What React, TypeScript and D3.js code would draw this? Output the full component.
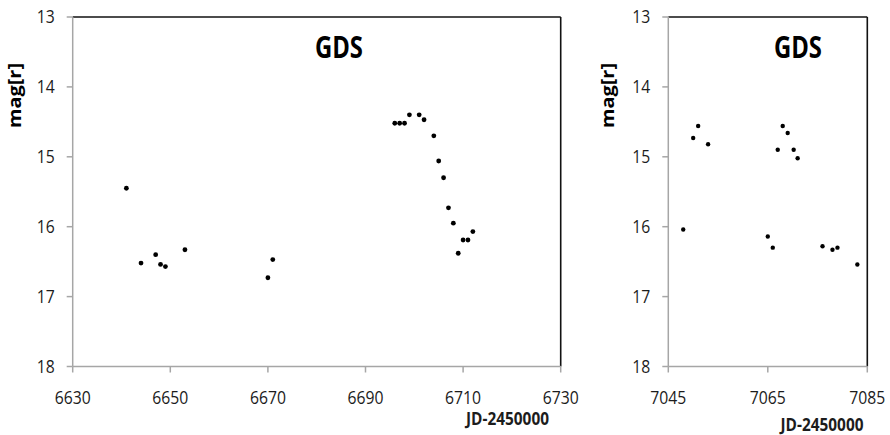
import React from "react";
import * as d3 from "d3";

// GDS r-band light curve, two observing seasons
const seasonAJd = [6641, 6644, 6647, 6648, 6649, 6653, 6670, 6671, 6696, 6697, 6698, 6699, 6701, 6702, 6704, 6705, 6706, 6707, 6708, 6709, 6710, 6711, 6712];
const seasonAMag = [15.45, 16.52, 16.4, 16.54, 16.57, 16.33, 16.73, 16.47, 14.52, 14.52, 14.52, 14.4, 14.4, 14.47, 14.7, 15.06, 15.3, 15.73, 15.95, 16.38, 16.19, 16.19, 16.07];

const seasonBJd = [7048, 7050, 7051, 7053, 7065, 7066, 7067, 7068, 7069, 7070.2, 7071, 7076, 7078, 7079, 7083];
const seasonBMag = [16.04, 14.73, 14.56, 14.82, 16.14, 16.3, 14.9, 14.56, 14.66, 14.9, 15.02, 16.28, 16.33, 16.3, 16.54];

const seasonATicks = [6630, 6650, 6670, 6690, 6710, 6730];
const seasonBTicks = [7045, 7065, 7085];
const magTicks = [13, 14, 15, 16, 17, 18];

const FONT = "'Open Sans', 'DejaVu Sans Condensed', sans-serif";
const AXIS_GREY = "#a6a6a6";
const INK = "#1c1c1c";

type PanelProps = {
  jd: number[];
  mag: number[];
  xDomain: [number, number];
  xTicks: number[];
  left: number;
  right: number;
  titleX: number;
  yLabelX: number;
  xLabelX: number;
  xLabelY: number;
  dotR: number;
};

const TOP = 17;
const BOTTOM = 366.5;

// condensed look: squeeze each label to a fixed advance per character
const squeeze = (s: string, per: number) => ({ textLength: s.length * per, lengthAdjust: "spacingAndGlyphs" as const });

function Panel(p: PanelProps) {
  const x = d3.scaleLinear().domain(p.xDomain).range([p.left, p.right]);
  const y = d3.scaleLinear().domain([13, 18]).range([TOP, BOTTOM]);
  const pts = p.jd.map((j, i) => ({ j, m: p.mag[i] }));
  return (
    <g>
      {/* frame: black top/right, grey axes left/bottom */}
      <line x1={p.left} x2={p.right} y1={TOP} y2={TOP} stroke="#111" strokeWidth={1.6} />
      <line x1={p.right} x2={p.right} y1={TOP} y2={BOTTOM} stroke="#111" strokeWidth={1.6} />
      <line x1={p.left} x2={p.left} y1={TOP} y2={BOTTOM} stroke={AXIS_GREY} strokeWidth={1.5} />
      <line x1={p.left} x2={p.right} y1={BOTTOM} y2={BOTTOM} stroke={AXIS_GREY} strokeWidth={1.5} />
      {magTicks.map((t) => (
        <g key={"y" + t}>
          <line x1={p.left - 6} x2={p.left} y1={y(t)} y2={y(t)} stroke={AXIS_GREY} strokeWidth={1.5} />
          <text x={p.left - 18} y={y(t)} dy="0.36em" textAnchor="end" fontFamily={FONT} fontSize={18} fill={INK} {...squeeze(String(t), 9)}>
            {t}
          </text>
        </g>
      ))}
      {p.xTicks.map((t) => (
        <g key={"x" + t}>
          <line x1={x(t)} x2={x(t)} y1={BOTTOM} y2={BOTTOM + 6} stroke={AXIS_GREY} strokeWidth={1.5} />
          <text x={x(t)} y={397.5} dy="0.36em" textAnchor="middle" fontFamily={FONT} fontSize={17.5} fill={INK} {...squeeze(String(t), 9)}>
            {t}
          </text>
        </g>
      ))}
      {pts.map((d, i) => (
        <circle key={i} cx={x(d.j)} cy={y(d.m)} r={p.dotR} fill="#000" />
      ))}
      <text x={p.titleX} y={46.5} dy="0.36em" textAnchor="middle" fontFamily={FONT} fontWeight="bold" fontSize={31} fill="#000" {...squeeze("GDS", 16)}>
        GDS
      </text>
      <text
        transform={`translate(${p.yLabelX},95.5) rotate(-90)`}
        dy="0.36em"
        textAnchor="middle"
        fontFamily={FONT}
        fontWeight="bold"
        fontSize={18}
        fill="#000"
        textLength={65}
        lengthAdjust="spacingAndGlyphs"
      >
        mag[r]
      </text>
      <text
        x={p.xLabelX}
        y={p.xLabelY}
        dy="0.36em"
        textAnchor="middle"
        fontFamily={FONT}
        fontWeight="bold"
        fontSize={17.5}
        fill={INK}
        textLength={83}
        lengthAdjust="spacingAndGlyphs"
      >
        JD-2450000
      </text>
    </g>
  );
}

export default function App() {
  return (
    <svg width={890} height={435} viewBox="0 0 890 435" style={{ display: "block", position: "absolute", left: 0, top: 0, background: "#fff" }}>
      <rect width={890} height={435} fill="#fff" />
      <Panel
        jd={seasonAJd}
        mag={seasonAMag}
        xDomain={[6630, 6730]}
        xTicks={seasonATicks}
        left={72.7}
        right={560.7}
        titleX={339}
        yLabelX={15}
        xLabelX={507.5}
        xLabelY={418.5}
        dotR={2.4}
      />
      <Panel
        jd={seasonBJd}
        mag={seasonBMag}
        xDomain={[7045, 7085]}
        xTicks={seasonBTicks}
        left={668.3}
        right={867.3}
        titleX={798}
        yLabelX={608}
        xLabelX={822}
        xLabelY={425}
        dotR={2.2}
      />
    </svg>
  );
}
